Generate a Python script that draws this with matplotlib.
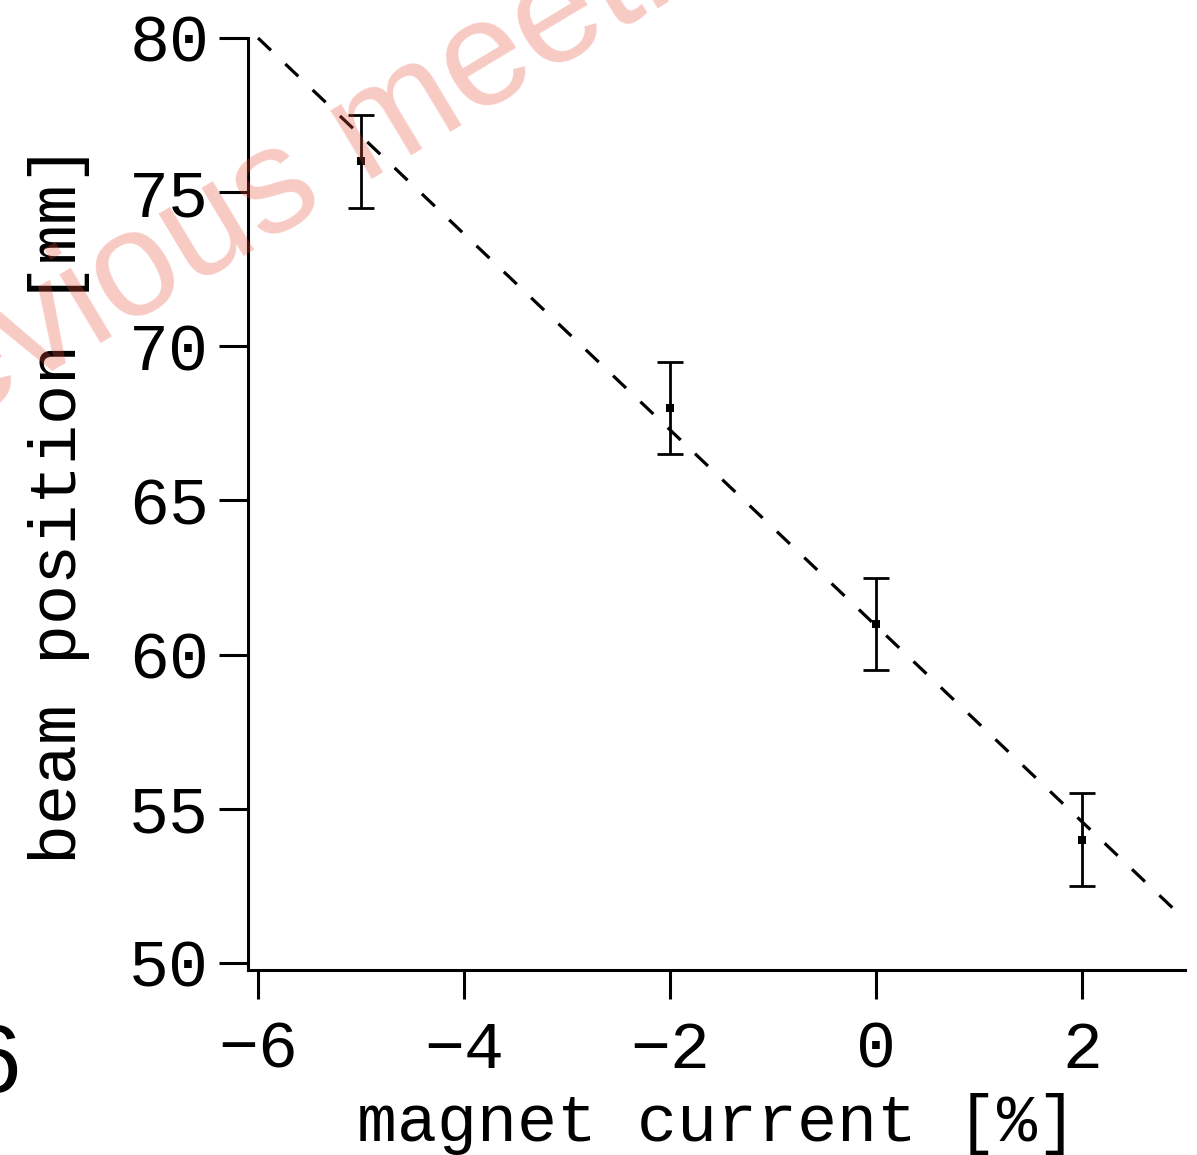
import matplotlib
matplotlib.use("Agg")
import matplotlib.pyplot as plt

# --- données ---
current = [-5, -2, 0, 2]            # magnet current [%]
position = [76, 68, 61, 54]         # beam position [mm]
err = [1.5, 1.5, 1.5, 1.5]

# droite d'ajustement (extrémités)
fit_x = [-6, 3]
fit_y = [80, 51.4]

xticks = [-6, -4, -2, 0, 2]
yticks = [50, 55, 60, 65, 70, 75, 80]

mono = "Liberation Mono"

fig = plt.figure(figsize=(11.97, 11.55), dpi=100)
ax = fig.add_axes([0.2072, 0.1602, 0.7828, 0.8069])

ax.plot(fit_x, fit_y, color="black", lw=2.3, linestyle=(0, (5.6, 6.2)), clip_on=False)
ax.errorbar(current, position, yerr=err, fmt="none", ecolor="black",
            elinewidth=2.0, capsize=9.5, capthick=2.0, clip_on=False)
ax.plot(current, position, "s", color="black", ms=6, mew=0)

ax.set_xlim(-6.097, 3.0)
ax.set_ylim(49.77, 80)
ax.set_xticks(xticks)
ax.set_yticks(yticks)

for s in ["top", "right"]:
    ax.spines[s].set_visible(False)
for s in ["left", "bottom"]:
    ax.spines[s].set_linewidth(2.2)

ax.tick_params(axis="both", direction="out", length=21, width=2.2, labelsize=48)
ax.tick_params(axis="x", pad=15)
ax.tick_params(axis="y", pad=7)
for lab in ax.get_xticklabels() + ax.get_yticklabels():
    lab.set_family(mono)

ax.set_xlabel("magnet current [%]", fontsize=48, family=mono, labelpad=8)
ax.set_ylabel("beam position [mm]", fontsize=48, family=mono, labelpad=28)

# filigrane
fig.text(-0.132, 0.569, "previous meeting", family="Liberation Sans", fontsize=108,
         color="#e8503a", alpha=0.3, rotation=31, rotation_mode="anchor",
         ha="left", va="baseline")

# morceau de numéro de page
fig.text(21 / 1197, 1 - 1092 / 1155, "6", family="Liberation Sans", fontsize=69,
         color="black", ha="right", va="baseline")

fig.savefig("out.png", dpi=100)
